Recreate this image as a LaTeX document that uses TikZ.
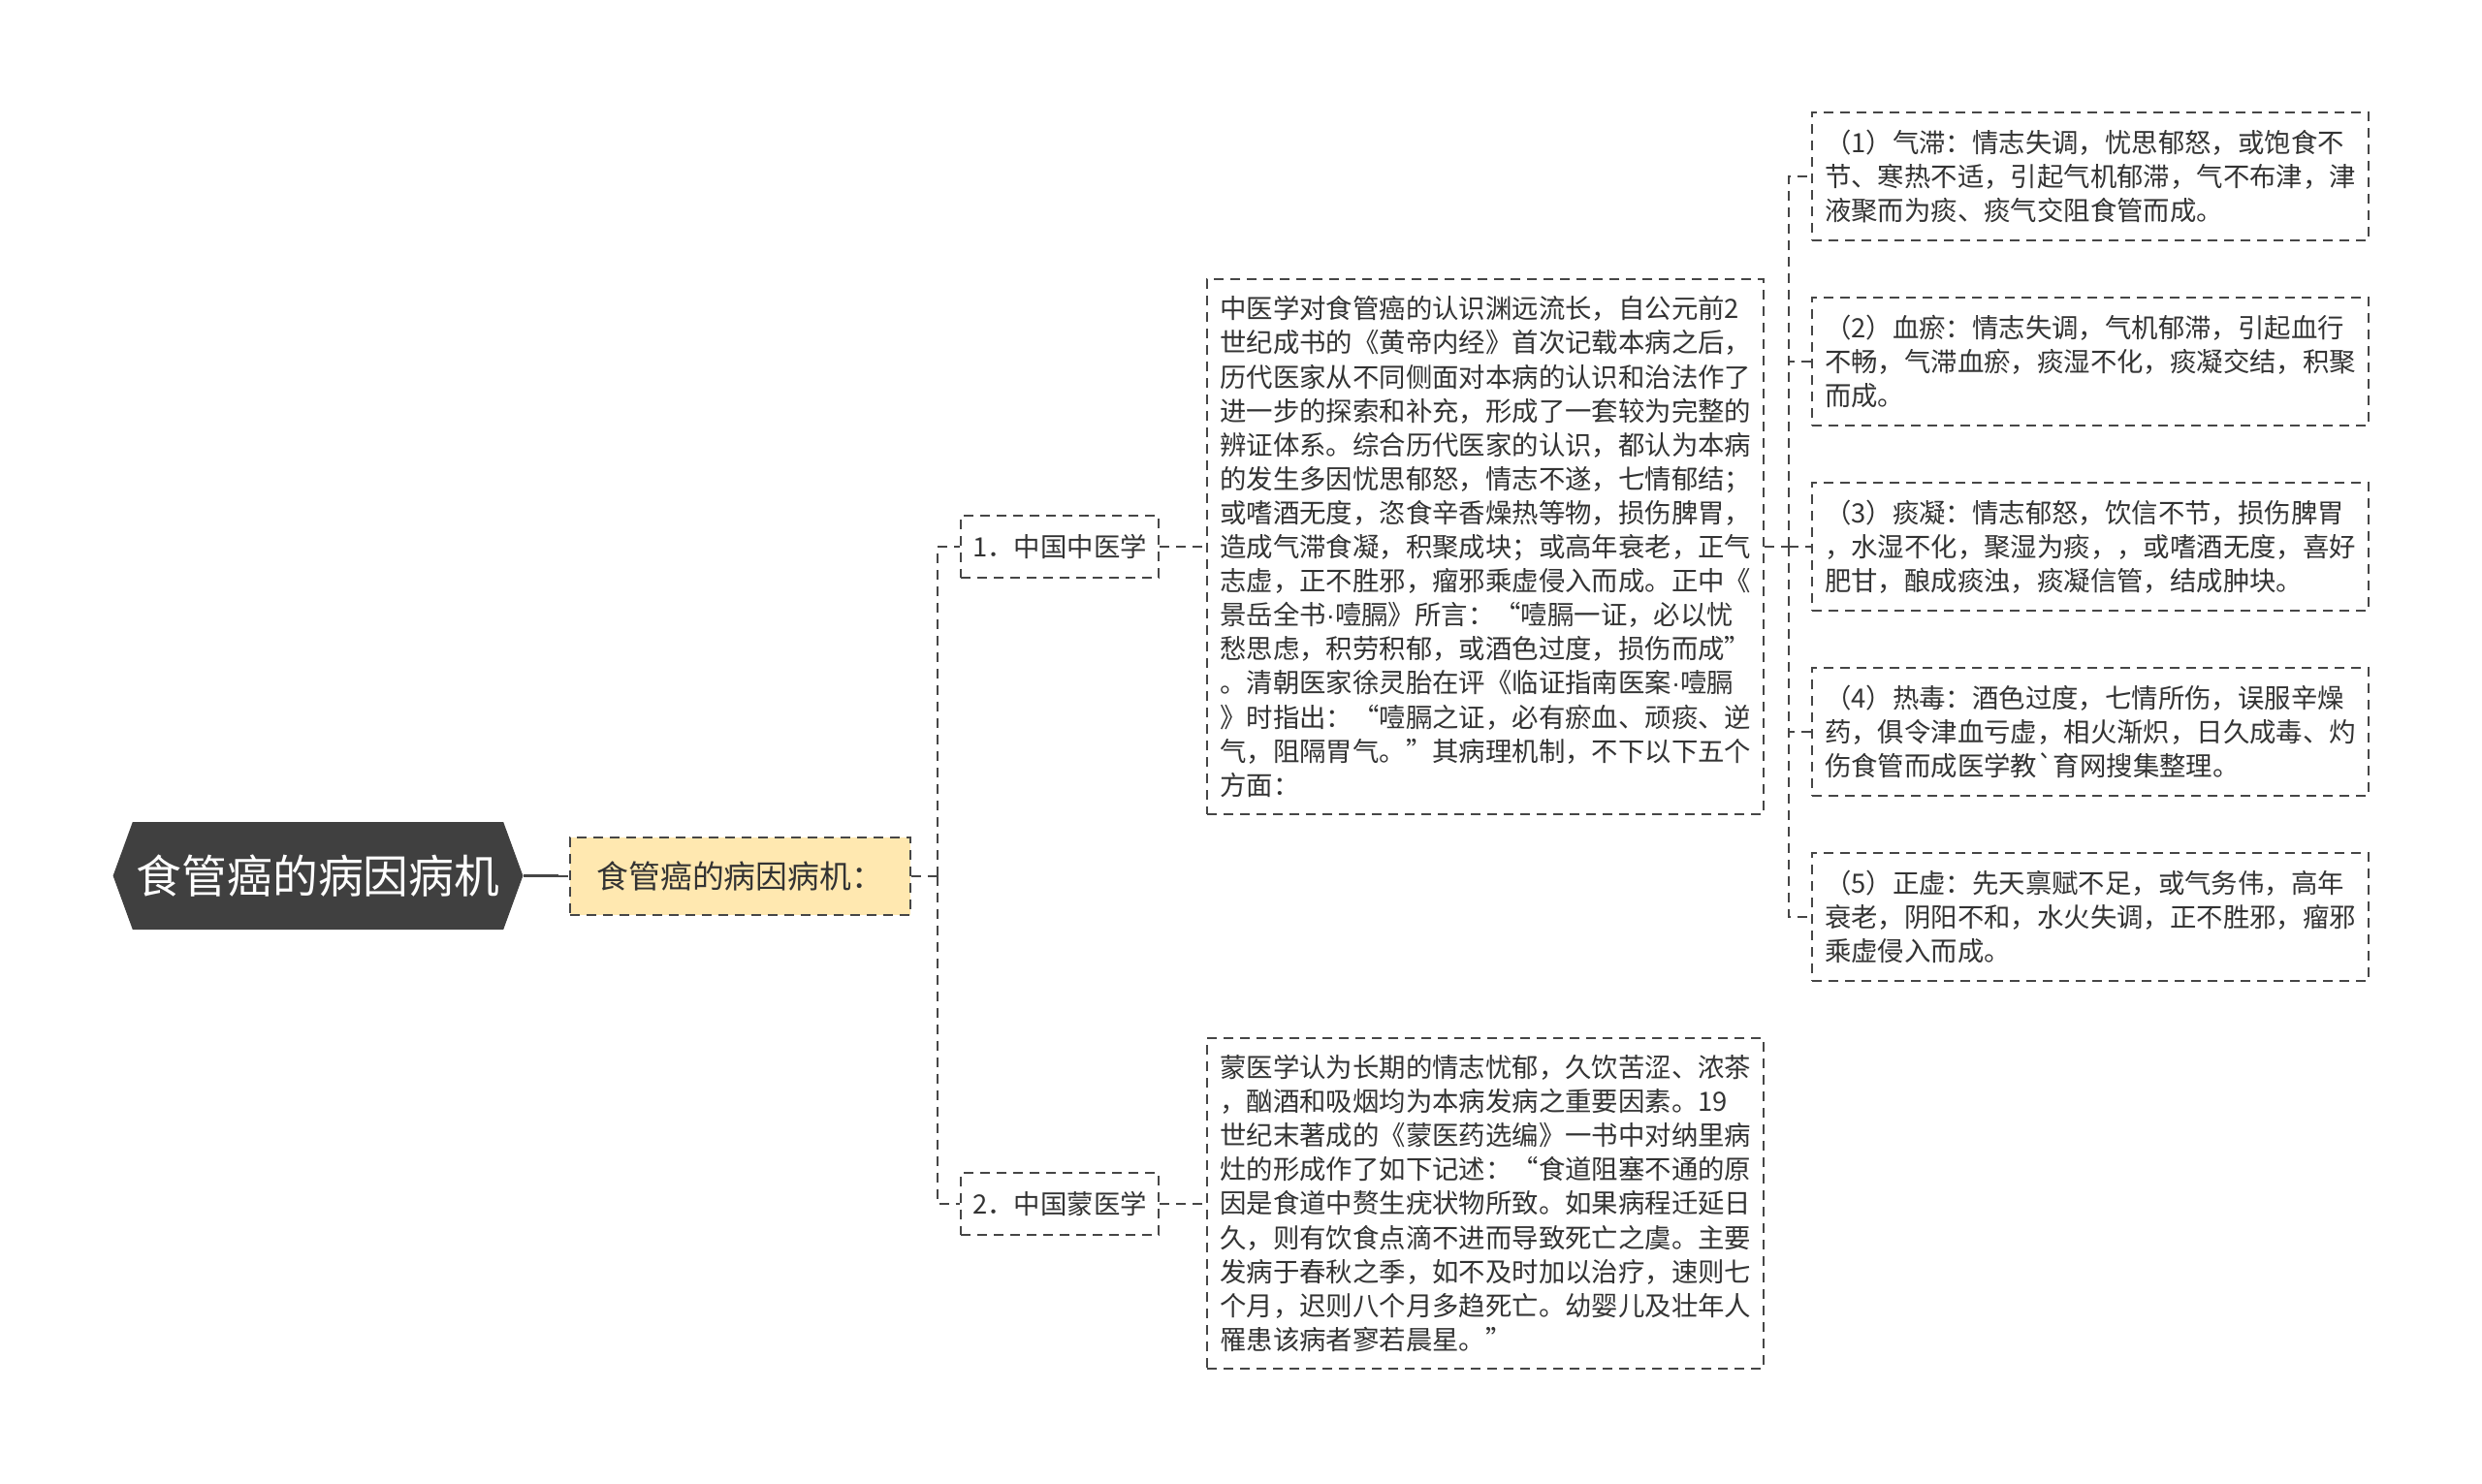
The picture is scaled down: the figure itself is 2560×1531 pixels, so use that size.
\documentclass[tikz,border=0pt]{standalone}
\usepackage{fontspec}
\setmainfont{Noto Sans CJK SC}
\newfontfamily\dotfont{Liberation Sans}
\newcommand{\middot}{{\dotfont ·}}
\usetikzlibrary{shapes.symbols}

\begin{document}
\begin{tikzpicture}[x=0.5pt,y=-0.5pt,
  every node/.style={font=\fontsize{13.7pt}{17.55pt}\selectfont,text=bodytext},
  link/.style={draw=edgegray,line width=1pt,dash pattern=on 5pt off 3.5pt},
  dashbox/.style={draw=edgegray,line width=1pt,dash pattern=on 5pt off 3.5pt},
  textbox/.style={dashbox,align=left,text width=274pt,inner xsep=6.5pt,inner ysep=4pt}]
  \definecolor{bodytext}{RGB}{51,51,51}
  \definecolor{edgegray}{RGB}{70,70,70}
  \definecolor{rootfill}{RGB}{64,64,64}
  \definecolor{causefill}{RGB}{255,232,176}
  \useasboundingbox (0,0) rectangle (2560,1531);
  % root and first level
  \node[shape=signal,signal to=west and east,signal pointer angle=140,fill=rootfill,
    text=white,font=\fontsize{23.4pt}{28pt}\selectfont,inner xsep=2pt,
    minimum width=210.5pt,minimum height=55.5pt] (root) at (328,903.5) {食管癌的病因病机};
  \node[dashbox,fill=causefill,font=\fontsize{16.4pt}{20pt}\selectfont,
    minimum width=175.5pt,minimum height=40pt] (cause) at (763.3,903.5) {食管癌的病因病机：};
  \node[dashbox,minimum width=102pt,minimum height=32pt] (tcm) at (1093,564) {1．中国中医学};
  \node[dashbox,minimum width=102pt,minimum height=32pt] (mon) at (1093,1241.5) {2．中国蒙医学};
  % long texts
  \node[textbox,minimum height=276pt] (tcmtext) at (1532.3,564) {中医学对食管癌的认识渊远流长，自公元前2\\
    世纪成书的《黄帝内经》首次记载本病之后，\\
    历代医家从不同侧面对本病的认识和治法作了\\
    进一步的探索和补充，形成了一套较为完整的\\
    辨证体系。综合历代医家的认识，都认为本病\\
    的发生多因忧思郁怒，情志不遂，七情郁结；\\
    或嗜酒无度，恣食辛香燥热等物，损伤脾胃，\\
    造成气滞食凝，积聚成块；或高年衰老，正气\\
    志虚，正不胜邪，瘤邪乘虚侵入而成。正中《\\
    景岳全书\middot 噎膈》所言：“噎膈一证，必以忧\\
    愁思虑，积劳积郁，或酒色过度，损伤而成”\\
    。清朝医家徐灵胎在评《临证指南医案\middot 噎膈\\
    》时指出：“噎膈之证，必有瘀血、顽痰、逆\\
    气，阻隔胃气。”其病理机制，不下以下五个\\
    方面：};
  \node[textbox,minimum height=170.5pt] (montext) at (1532.3,1241.5) {蒙医学认为长期的情志忧郁，久饮苦涩、浓茶\\
    ，酗酒和吸烟均为本病发病之重要因素。19\\
    世纪末著成的《蒙医药选编》一书中对纳里病\\
    灶的形成作了如下记述：“食道阻塞不通的原\\
    因是食道中赘生疣状物所致。如果病程迁延日\\
    久，则有饮食点滴不进而导致死亡之虞。主要\\
    发病于春秋之季，如不及时加以治疗，速则七\\
    个月，迟则八个月多趋死亡。幼婴儿及壮年人\\
    罹患该病者寥若晨星。”};
  % five mechanisms
  \node[textbox,minimum height=66pt] (r1) at (2156,182) {（1）气滞：情志失调，忧思郁怒，或饱食不\\
    节、寒热不适，引起气机郁滞，气不布津，津\\
    液聚而为痰、痰气交阻食管而成。};
  \node[textbox,minimum height=66pt] (r2) at (2156,373) {（2）血瘀：情志失调，气机郁滞，引起血行\\
    不畅，气滞血瘀，痰湿不化，痰凝交结，积聚\\
    而成。};
  \node[textbox,minimum height=66pt] (r3) at (2156,564) {（3）痰凝：情志郁怒，饮信不节，损伤脾胃\\
    ，水湿不化，聚湿为痰，，或嗜酒无度，喜好\\
    肥甘，酿成痰浊，痰凝信管，结成肿块。};
  \node[textbox,minimum height=66pt] (r4) at (2156,755) {（4）热毒：酒色过度，七情所伤，误服辛燥\\
    药，俱令津血亏虚，相火渐炽，日久成毒、灼\\
    伤食管而成医学教\textasciigrave 育网搜集整理。};
  \node[textbox,minimum height=66pt] (r5) at (2156,946) {（5）正虚：先天禀赋不足，或气务伟，高年\\
    衰老，阴阳不和，水火失调，正不胜邪，瘤邪\\
    乘虚侵入而成。};
  % connectors
  \coordinate (rj) at (575.8,903.5);
  \coordinate (spine) at (966.5,903.5);
  \coordinate (hub) at (1845,564);
  \draw[edgegray,line width=1.5pt] (root.east) -- (rj);
  \draw[link] (rj) -- (cause.west);
  \draw[link] (cause.east) -- (spine);
  \draw[link] (spine) |- (tcm.west);
  \draw[link] (spine) |- (mon.west);
  \draw[link] (tcm.east) -- (tcmtext.west);
  \draw[link] (mon.east) -- (montext.west);
  \draw[link] (tcmtext.east) -- (hub);
  \foreach \i in {1,...,5}
    \draw[link] (hub) |- (r\i.west);
\end{tikzpicture}
\end{document}
